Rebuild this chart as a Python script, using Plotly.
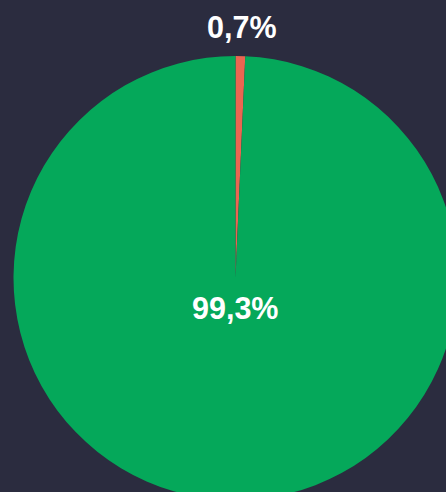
import plotly.graph_objects as go

labels = ["Categoria A", "Categoria B"]
values = [0.7, 99.3]
text_labels = ["0,7%", "99,3%"]
colors = ["#EA6651", "#05A85A"]
bg = "#2B2C3F"

# pie geometry (figure pixels)
W, H = 458, 500
ML, MR, MT, MB = 13, 0, 56, 0
plot_w, plot_h = W - ML - MR, H - MT - MB


def to_paper(px, py):
    return (px - ML) / plot_w, 1 - (py - MT) / plot_h


fig = go.Figure(go.Pie(
    labels=labels,
    values=values,
    textinfo="none",
    sort=False,
    direction="clockwise",
    rotation=0,
    marker=dict(colors=colors, line=dict(width=0)),
    showlegend=False,
    hoverinfo="skip",
))

label_pos = [(241.7, 26.5), (234.5, 307.5)]
font = dict(family="Liberation Sans, Arial, sans-serif", size=30.5, color="white", weight="bold")
for txt, (px, py) in zip(text_labels, label_pos):
    x, y = to_paper(px, py)
    fig.add_annotation(x=x, y=y, xref="paper", yref="paper", text=txt, showarrow=False,
                       xanchor="center", yanchor="middle", font=font)

fig.update_layout(
    width=W, height=H,
    margin=dict(l=ML, r=MR, t=MT, b=MB),
    paper_bgcolor=bg, plot_bgcolor=bg,
)
fig.write_html(
    "out.html",
    config={"displayModeBar": False},
    post_script="document.body.style.margin='0';document.body.style.overflow='hidden';"
                "document.body.style.background='" + bg + "';",
)
